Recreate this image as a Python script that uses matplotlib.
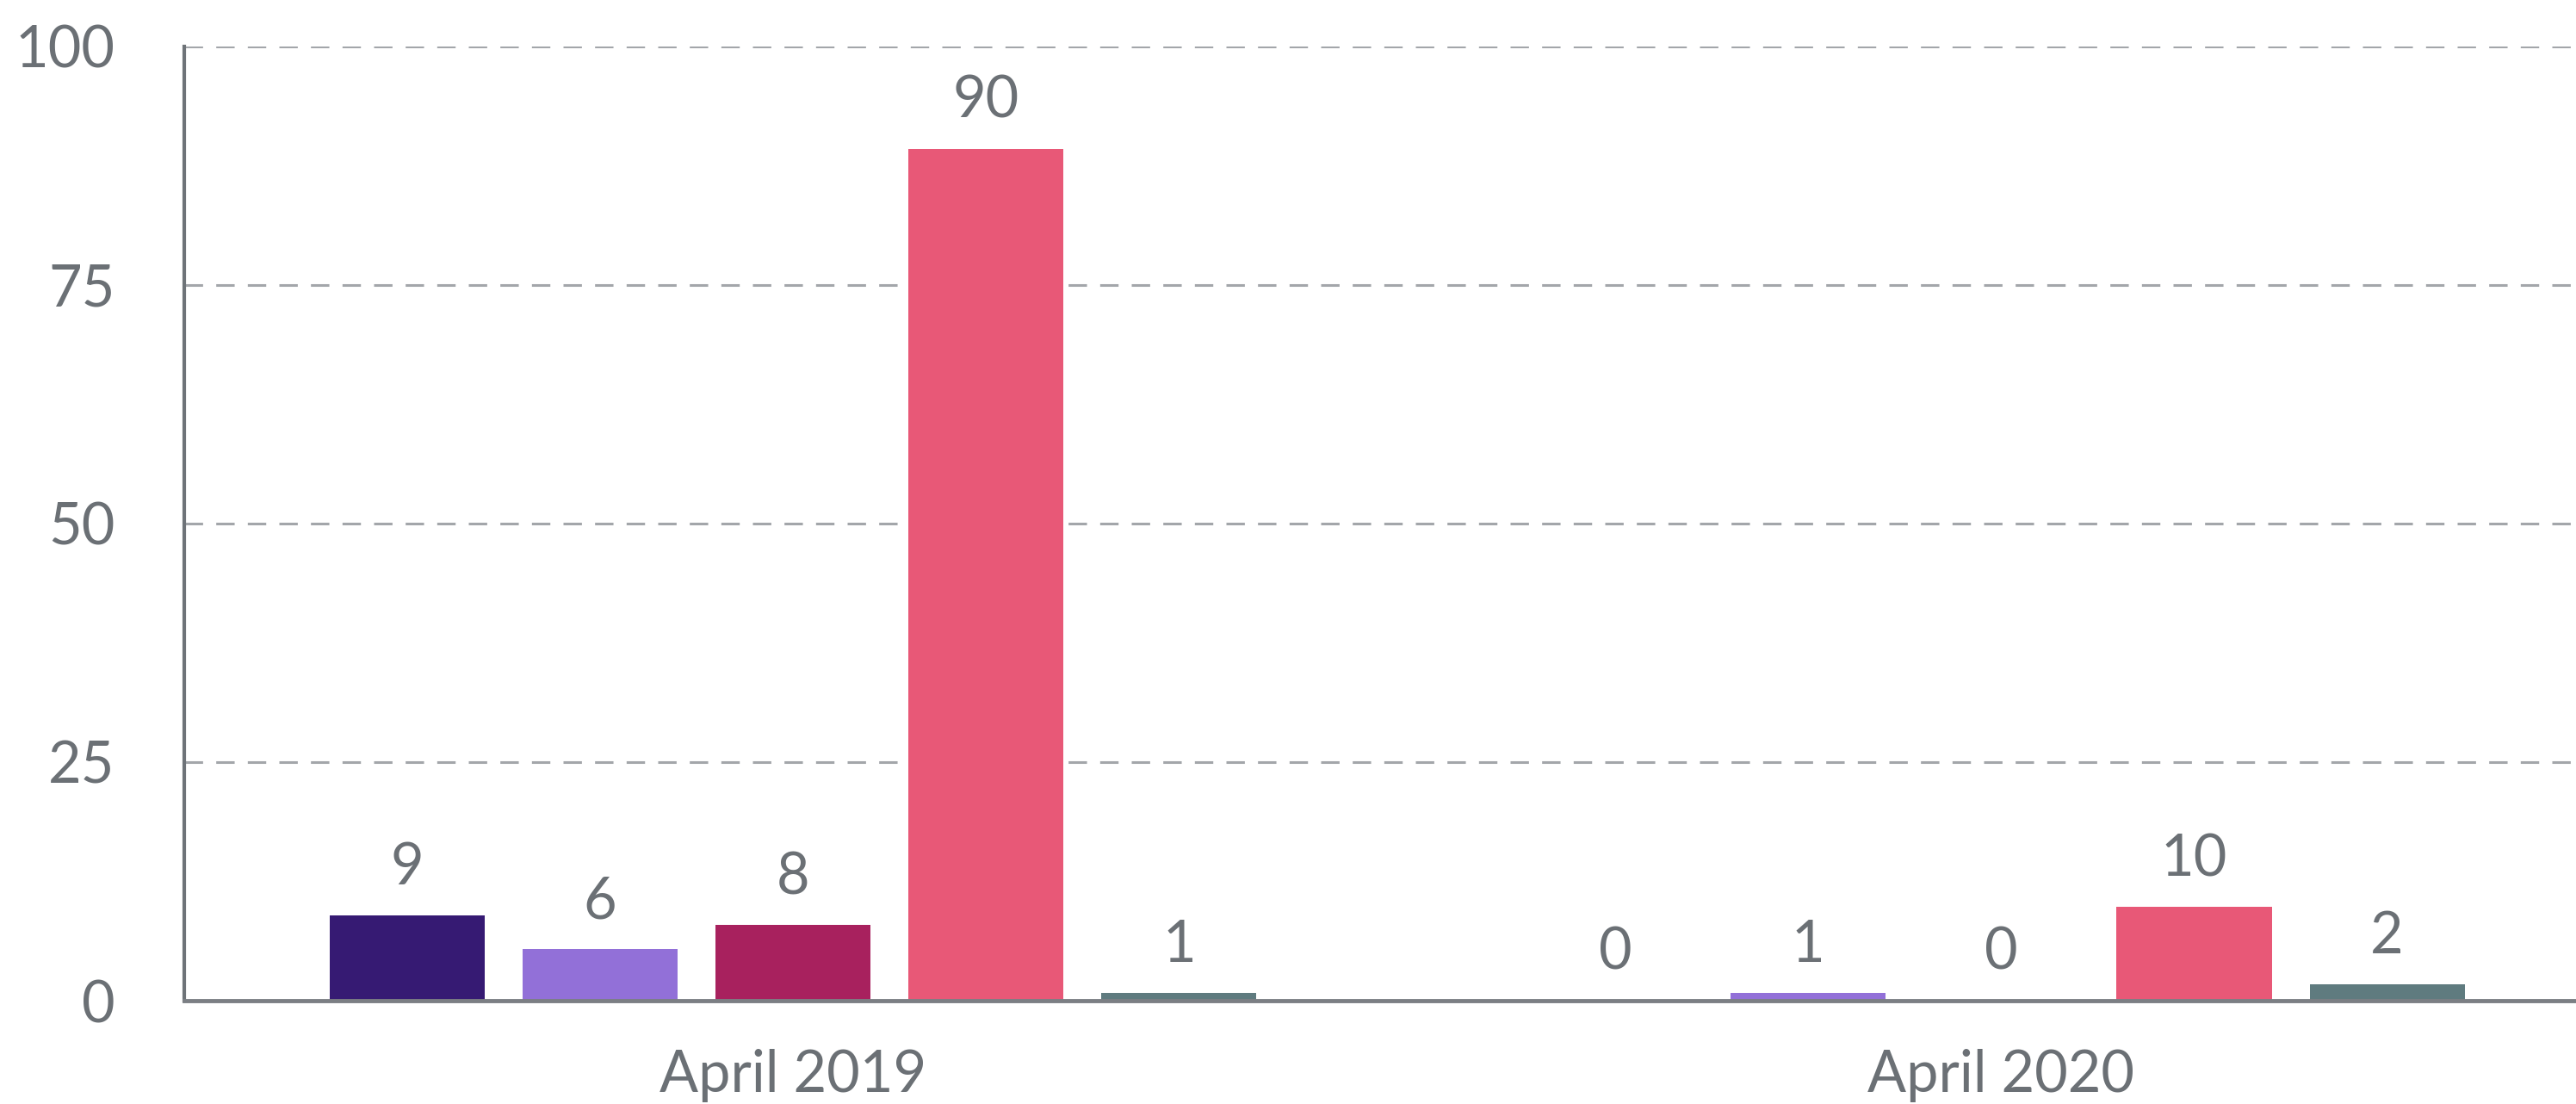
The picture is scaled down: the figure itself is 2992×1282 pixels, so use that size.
import numpy as np
import matplotlib
matplotlib.use('Agg')
import matplotlib.pyplot as plt

# Data (bar heights, labels as printed)
groups = ['April 2019', 'April 2020']
series_colors = ['#361a73', '#9270d8', '#a8215e', '#e85877', '#5f7b7f']
heights = [
    [8.9, 0.0],
    [5.4, 0.8],
    [7.9, 0.0],
    [89.3, 9.8],
    [0.8, 1.7],
]
labels = [
    ['9', '0'],
    ['6', '1'],
    ['8', '0'],
    ['90', '10'],
    ['1', '2'],
]
y_ticks = [0, 25, 50, 75, 100]

text_color = '#6b7075'
plt.rcParams['font.family'] = ['Lato', 'DejaVu Sans']

fig = plt.figure(figsize=(29.92, 12.82), dpi=100)
# axes runs past the right edge of the figure, as in the reference
ax = fig.add_axes([0.0715, 0.0936, 0.938, 0.8643])

x = np.arange(len(groups))
step = 0.1597
width = 0.1283
n = len(heights)

for i, (vals, labs, col) in enumerate(zip(heights, labels, series_colors)):
    offset = (i - (n - 1) / 2) * step
    bars = ax.bar(x + offset, vals, width=width, color=col, zorder=2)
    for b, v, lab in zip(bars, vals, labs):
        ax.annotate(lab, (b.get_x() + b.get_width() / 2, v),
                    xytext=(0, 26), textcoords='offset points',
                    ha='center', va='baseline', fontsize=48, color=text_color)

ax.set_xlim(-0.504, 1.496)
ax.set_ylim(0, 100)
ax.set_yticks(y_ticks)
ax.set_xticks(x)
ax.set_xticklabels(groups)

ax.tick_params(axis='both', length=0, labelsize=48, labelcolor=text_color)
ax.tick_params(axis='y', pad=58)
ax.tick_params(axis='x', pad=40)

ax.yaxis.grid(True, linestyle=(0, (7, 5)), color='#a3a6aa', linewidth=2.2, zorder=0)
ax.set_axisbelow(True)

for s in ['top', 'right']:
    ax.spines[s].set_visible(False)
ax.spines['left'].set_color('#6e7378')
ax.spines['left'].set_linewidth(3)
ax.spines['bottom'].set_color('#7b7f84')
ax.spines['bottom'].set_linewidth(3.5)
ax.spines['bottom'].set_zorder(3)

fig.savefig('out.png', dpi=100)
